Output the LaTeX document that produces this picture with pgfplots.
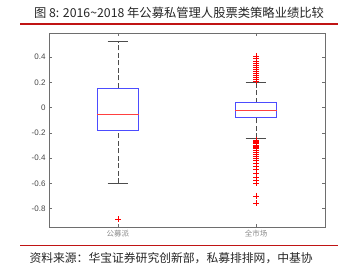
\documentclass[border=0pt]{standalone}
\usepackage{fontspec}
\setmainfont{Liberation Sans}
\newfontfamily\cjk{Noto Sans CJK SC}
\usepackage{pgfplots}
\pgfplotsset{compat=1.18}
\usepgfplotslibrary{statistics}
\definecolor{titlered}{RGB}{192,20,20}
\definecolor{tickgray}{RGB}{70,70,70}
\definecolor{axgray}{RGB}{110,110,110}
\begin{document}
\begin{tikzpicture}
\useasboundingbox (0pt,0pt) rectangle (348pt,270pt);
\node[anchor=center,font=\cjk\fontsize{12.3}{12.3}\selectfont,text=black!85] at (179pt,257pt) {图 8: 2016\textasciitilde2018 年公募私管理人股票类策略业绩比较};
\draw[titlered,line width=1.3pt] (20pt,246pt) -- (338pt,246pt);
\draw[titlered,line width=1.3pt] (20pt,24.5pt) -- (338pt,24.5pt);
\node[anchor=west,font=\cjk\fontsize{11.8}{11.8}\selectfont,text=black!85] at (26pt,12pt) {资料来源：华宝证券研究创新部，私募排排网，中基协};
\begin{axis}[
  at={(49pt,43pt)}, anchor=south west,
  width=276pt, height=194pt, scale only axis,
  xmin=0.5, xmax=2.5, ymin=-0.945, ymax=0.59,
  xtick={1,2}, xticklabels={公募派,全市场},
  xticklabel style={font=\cjk\fontsize{7.5}{7.5}\selectfont, text=black!45},
  ytick={-0.8,-0.6,-0.4,-0.2,0,0.2,0.4},
  yticklabels={-0.8,-0.6,-0.4,-0.2,0,0.2,0.4},
  yticklabel style={font=\fontsize{8}{8}\selectfont, text=tickgray},
  axis line style={axgray, line width=0.6pt},
  tick style={axgray, line width=0.5pt},
  major tick length=3pt,
  tick align=inside,
  boxplot/draw direction=y,
  boxplot/box extend=0.3,
  boxplot/whisker extend=0.15,
  boxplot/every box/.style={draw=blue!70!white, line width=0.6pt},
  boxplot/every median/.style={draw=red!75!white, line width=0.6pt},
  boxplot/every whisker/.style={draw=black!70, line width=0.8pt},
  boxplot/draw/lower whisker/.code={%
    \draw[/pgfplots/boxplot/every whisker/.try, dash pattern=on 5pt off 2.5pt]
      (boxplot box cs:\pgfplotsboxplotvalue{lower whisker},0.5) --
      (boxplot box cs:\pgfplotsboxplotvalue{lower quartile},0.5);
    \draw[/pgfplots/boxplot/every whisker/.try]
      (boxplot whisker cs:\pgfplotsboxplotvalue{lower whisker},0) --
      (boxplot whisker cs:\pgfplotsboxplotvalue{lower whisker},1);
  },
  boxplot/draw/upper whisker/.code={%
    \draw[/pgfplots/boxplot/every whisker/.try, dash pattern=on 5pt off 2.5pt]
      (boxplot box cs:\pgfplotsboxplotvalue{upper quartile},0.5) --
      (boxplot box cs:\pgfplotsboxplotvalue{upper whisker},0.5);
    \draw[/pgfplots/boxplot/every whisker/.try]
      (boxplot whisker cs:\pgfplotsboxplotvalue{upper whisker},0) --
      (boxplot whisker cs:\pgfplotsboxplotvalue{upper whisker},1);
  },
]
\addplot[mark=+, mark options={red, line width=0.45pt}, mark size=3pt,
  boxplot prepared={draw position=1, lower whisker=-0.598, lower quartile=-0.177,
    median=-0.053, upper quartile=0.155, upper whisker=0.52}]
  table[row sep=\\, y index=0] {y\\ -0.882\\};
\addplot[mark=+, mark options={red, line width=0.45pt}, mark size=3pt,
  boxplot prepared={draw position=2, lower whisker=-0.243, lower quartile=-0.077,
    median=-0.019, upper quartile=0.04, upper whisker=0.2}]
  table[row sep=\\, y index=0] {y\\
  0.21\\ 0.225\\ 0.24\\ 0.255\\ 0.27\\ 0.285\\ 0.30\\ 0.32\\ 0.335\\ 0.35\\ 0.37\\ 0.39\\ 0.405\\
  -0.255\\ -0.265\\ -0.275\\ -0.285\\ -0.295\\ -0.305\\ -0.315\\ -0.325\\ -0.335\\ -0.35\\ -0.37\\ -0.385\\ -0.40\\ -0.42\\ -0.44\\ -0.465\\ -0.49\\ -0.52\\ -0.55\\ -0.575\\ -0.60\\ -0.698\\ -0.758\\};
\end{axis}
\end{tikzpicture}
\end{document}
